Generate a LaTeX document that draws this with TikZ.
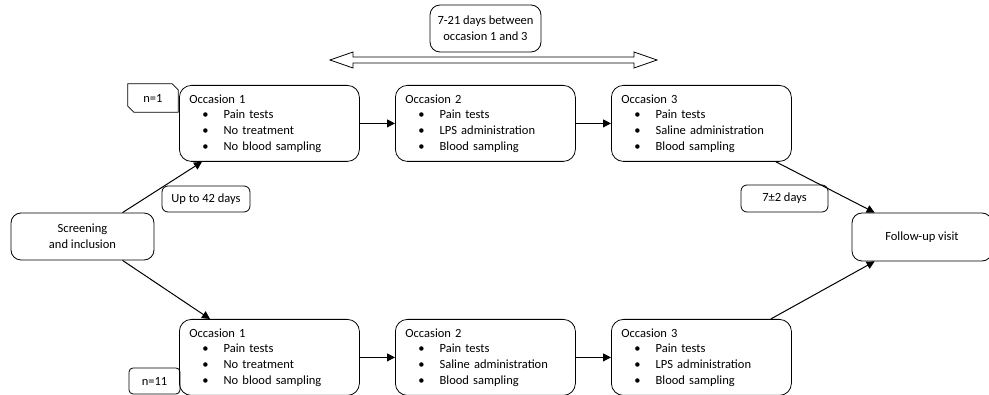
\documentclass[tikz,border=0pt]{standalone}
\usepackage{fontspec}
\setmainfont{Carlito}
\usetikzlibrary{arrows.meta}

\newcommand{\occitem}[1]{\\\hspace*{13pt}\textbullet\hspace{15pt}#1}

\tikzset{
  occbox/.style={draw, line width=0.8pt, rounded corners=12pt, text width=160pt, inner xsep=10pt,
    minimum height=76pt, align=left, anchor=north west},
  infobox/.style={draw, line width=0.8pt, rounded corners=10pt, align=center, inner sep=0pt},
  tagbox/.style={draw, line width=0.8pt, rounded corners=6pt, align=center, inner sep=0pt},
  conn/.style={line width=1pt, -{Triangle[length=8pt,width=8pt]}}
}

\begin{document}
\begin{tikzpicture}[x=1pt, y=-1pt, font=\fontsize{12.5}{15.7}\selectfont]
  \useasboundingbox (0,0) rectangle (989,395);

  \node[occbox] (t1) at (179,85) {Occasion 1\occitem{Pain tests}\occitem{No treatment}\occitem{No blood sampling}};
  \node[occbox] (t2) at (395,85) {Occasion 2\occitem{Pain tests}\occitem{LPS administration}\occitem{Blood sampling}};
  \node[occbox] (t3) at (611,85) {Occasion 3\occitem{Pain tests}\occitem{Saline administration}\occitem{Blood sampling}};
  \node[occbox] (b1) at (179,319) {Occasion 1\occitem{Pain tests}\occitem{No treatment}\occitem{No blood sampling}};
  \node[occbox] (b2) at (395,319) {Occasion 2\occitem{Pain tests}\occitem{Saline administration}\occitem{Blood sampling}};
  \node[occbox] (b3) at (611,319) {Occasion 3\occitem{Pain tests}\occitem{LPS administration}\occitem{Blood sampling}};

  \node[infobox, minimum width=143pt, minimum height=47pt] (scr) at (82.5,236.5) {Screening\\and inclusion};
  \node[infobox, minimum width=140pt, minimum height=48pt] (fu) at (922,237) {Follow-up visit};
  \node[infobox, minimum width=111pt, minimum height=47pt] (span) at (485.5,28.5) {7-21 days between\\occasion 1 and 3};

  \node[tagbox, minimum width=88pt, minimum height=26pt] (d42) at (206,199) {Up to 42 days};
  \node[tagbox, minimum width=87pt, minimum height=27pt] (d7) at (784.5,198.5) {7±2 days};
  \node[tagbox, rounded corners=4pt, minimum width=51pt, minimum height=26pt] (n11) at (154.5,381) {n=11};
  \node[inner sep=0pt, minimum width=50pt, minimum height=28pt] (n1) at (153,98) {n=1};
  \draw[line width=0.8pt] (n1.north west) -- ([xshift=-6pt]n1.north east) -- ([yshift=-6pt]n1.north east)
    -- (n1.south east) -- ([xshift=6pt]n1.south west) -- ([yshift=6pt]n1.south west) -- cycle;

  \coordinate (spanL) at (330,60);
  \coordinate (spanR) at (657,60);
  \draw[line width=0.8pt, fill=white] (spanL) -- ++(23,-8) -- ++(0,5) -- ([xshift=-23pt, yshift=3pt]spanR)
    -- ++(0,-5) -- (spanR) -- ++(-23,8) -- ++(0,-5) -- ([xshift=23pt, yshift=-3pt]spanL) -- ++(0,5) -- cycle;

  \draw[conn] ([xshift=40pt]scr.north) -- ([xshift=23pt]t1.south west);
  \draw[conn] ([xshift=40pt]scr.south) -- ([xshift=31pt]b1.north west);
  \draw[conn] (t1.east) -- (t2.west);
  \draw[conn] (t2.east) -- (t3.west);
  \draw[conn] (b1.east) -- (b2.west);
  \draw[conn] (b2.east) -- (b3.west);
  \draw[conn] ([xshift=-16pt]t3.south east) -- ([xshift=23pt]fu.north west);
  \draw[conn] ([xshift=-21pt]b3.north east) -- ([xshift=23pt]fu.south west);
\end{tikzpicture}
\end{document}
